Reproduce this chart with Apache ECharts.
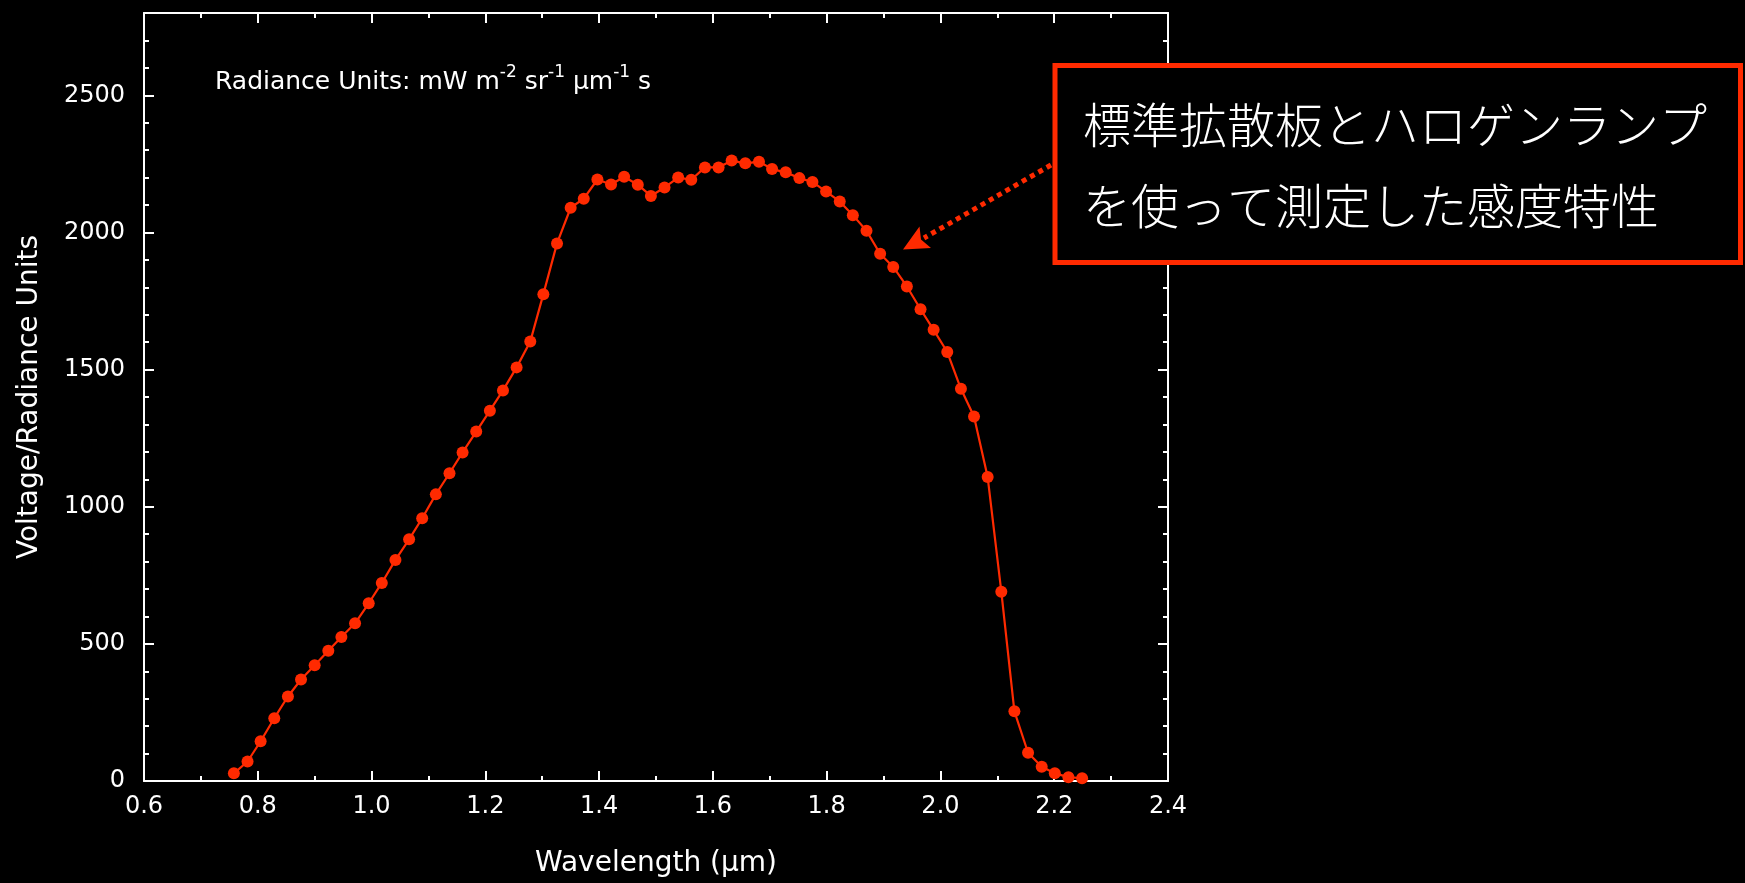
<!DOCTYPE html>
<html>
<head>
<meta charset="utf-8">
<script src="https://cdn.jsdelivr.net/npm/echarts@6/dist/echarts.min.js"></script>
<style>
html,body{margin:0;padding:0;background:#000;}
#chart{width:1745px;height:883px;}
</style>
</head>
<body>
<div id="chart"></div>
<script>
// Wavelength (µm)
const wavelengths = [
  0.758, 0.782, 0.805, 0.829, 0.853, 0.876, 0.900, 0.924, 0.947, 0.971,
  0.995, 1.018, 1.042, 1.066, 1.089, 1.113, 1.137, 1.160, 1.184, 1.208,
  1.231, 1.255, 1.279, 1.302, 1.326, 1.350, 1.373, 1.397, 1.421, 1.444,
  1.468, 1.491, 1.515, 1.539, 1.562, 1.586, 1.610, 1.633, 1.657, 1.681,
  1.704, 1.728, 1.752, 1.775, 1.799, 1.823, 1.846, 1.870, 1.894, 1.917,
  1.941, 1.965, 1.988, 2.012, 2.036, 2.059, 2.083, 2.107, 2.130, 2.154,
  2.178, 2.201, 2.225, 2.249
];
// Voltage / Radiance Units
const response = [
  28, 71, 145, 229, 308, 370, 422, 475, 525, 575,
  648, 722, 806, 881, 958, 1045, 1122, 1198, 1274, 1350,
  1424, 1508, 1602, 1775, 1960, 2090, 2123, 2193, 2175, 2203,
  2174, 2133, 2164, 2200, 2192, 2237, 2237, 2262, 2252, 2258,
  2231, 2219, 2198, 2184, 2149, 2113, 2063, 2006, 1922, 1874,
  1803, 1720, 1645, 1564, 1430, 1329, 1108, 690, 254, 103,
  52, 28, 14, 10
];
const xRange = [0.6, 2.4];
const xMajorStep = 0.2;
const yRange = [0, 2800];
const yMajorStep = 500;
const yMinorStep = 100;
const xTitle = 'Wavelength (μm)';
const yTitle = 'Voltage/Radiance Units';
const noteLines = ['標準拡散板とハロゲンランプ', 'を使って測定した感度特性'];

const RED = '#ff2a00';
const WHITE = '#ffffff';
const AX = {color: WHITE, width: 2};

const seriesData = wavelengths.map((w, i) => [w, response[i]]);

function xAxisCfg(pos, labels) {
  return {
    type: 'value', position: pos, min: xRange[0], max: xRange[1], interval: xMajorStep,
    axisLine: {show: true, onZero: false, lineStyle: AX},
    axisTick: {show: true, inside: true, length: 10, lineStyle: AX},
    minorTick: {show: true, splitNumber: 2, length: 5, lineStyle: AX},
    splitLine: {show: false},
    axisLabel: {show: labels, color: WHITE, fontFamily: 'DejaVu Sans', fontSize: 24, margin: 14,
      formatter: v => v.toFixed(1)},
    name: labels ? xTitle : '', nameLocation: 'middle', nameGap: 69,
    nameTextStyle: {color: WHITE, fontFamily: 'DejaVu Sans', fontSize: 28}
  };
}
function yAxisCfg(pos, major, labels) {
  return {
    type: 'value', position: pos, min: yRange[0], max: yRange[1],
    interval: major ? yMajorStep : yMinorStep,
    axisLine: {show: major, onZero: false, lineStyle: AX},
    axisTick: {show: true, inside: true, length: major ? 10 : 5, lineStyle: AX},
    splitLine: {show: false},
    axisLabel: {show: labels, color: WHITE, fontFamily: 'DejaVu Sans', fontSize: 24, margin: 19,
      showMaxLabel: false, formatter: v => String(v)},
    name: labels ? yTitle : '', nameLocation: 'middle', nameGap: 100,
    nameTextStyle: {color: WHITE, fontFamily: 'DejaVu Sans', fontSize: 28}
  };
}

const chart = echarts.init(document.getElementById('chart'), null, {renderer: 'canvas'});
chart.setOption({
  animation: false,
  backgroundColor: '#000000',
  grid: {left: 144, top: 13, width: 1024, height: 770, containLabel: false},
  xAxis: [xAxisCfg('bottom', true), xAxisCfg('top', false)],
  yAxis: [
    yAxisCfg('left', true, true),
    yAxisCfg('left', false, false),
    yAxisCfg('right', true, false),
    yAxisCfg('right', false, false)
  ],
  series: [{
    type: 'line', xAxisIndex: 0, yAxisIndex: 0,
    data: seriesData,
    symbol: 'circle', symbolSize: 12, showSymbol: true,
    itemStyle: {color: RED},
    lineStyle: {color: RED, width: 2.2},
    z: 5
  }],
  graphic: [
    {
      type: 'text', left: 215, top: 64, z: 100,
      style: {
        text: '{n|Radiance Units: mW m}{s|-2}{n| sr}{s|-1}{n| μm}{s|-1}{n| s}',
        fill: WHITE,
        rich: {
          n: {fontFamily: 'DejaVu Sans', fontSize: 25, lineHeight: 36, fill: WHITE},
          s: {fontFamily: 'DejaVu Sans', fontSize: 17, lineHeight: 12, verticalAlign: 'top', fill: WHITE}
        }
      }
    },
    {
      type: 'line', z: 100,
      shape: {x1: 1051, y1: 165, x2: 924, y2: 238},
      style: {stroke: RED, lineWidth: 5, lineDash: [5, 4.5]}
    },
    {
      type: 'polygon', z: 100,
      shape: {points: [[903, 249.5], [919.5, 226.5], [921, 239.5], [931, 248]]},
      style: {fill: RED}
    },
    {
      type: 'rect', z: 100,
      shape: {x: 1055, y: 65.5, width: 685.5, height: 197},
      style: {fill: '#000000', stroke: RED, lineWidth: 5}
    },
    {
      type: 'text', x: 1083, y: 125, z: 101,
      style: {text: noteLines[0], fill: WHITE, font: '300 48px "Noto Sans CJK JP"',
        verticalAlign: 'middle', align: 'left'}
    },
    {
      type: 'text', x: 1083, y: 206, z: 101,
      style: {text: noteLines[1], fill: WHITE, font: '300 48px "Noto Sans CJK JP"',
        verticalAlign: 'middle', align: 'left'}
    }
  ]
});
</script>
</body>
</html>
